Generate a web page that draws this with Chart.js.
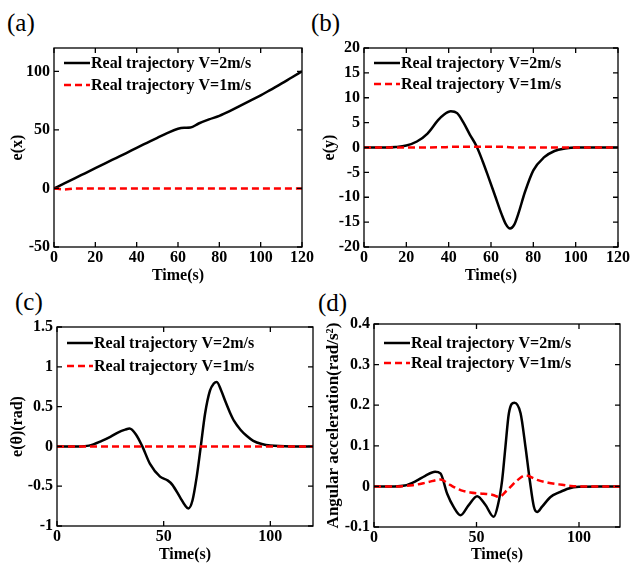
<!DOCTYPE html>
<html>
<head>
<meta charset="utf-8">
<script src="https://cdn.jsdelivr.net/npm/chart.js@4.4.0/dist/chart.umd.min.js"></script>
<style>
  body { margin: 0; background: #fff; width: 631px; height: 564px; position: relative; overflow: hidden; }
  canvas { position: absolute; }
  .tag { position: absolute; font-family: "Liberation Serif", "Times New Roman", serif; font-size: 25px; line-height: 1; color: #000; }
</style>
</head>
<body>
<div class="tag" style="left:7px;top:10px">(a)</div>
<div class="tag" style="left:311px;top:10px">(b)</div>
<div class="tag" style="left:15px;top:289px">(c)</div>
<div class="tag" style="left:318px;top:290px">(d)</div>
<canvas id="chartA" width="315" height="285" style="left:0;top:0"></canvas>
<canvas id="chartB" width="316" height="285" style="left:315px;top:0"></canvas>
<canvas id="chartC" width="315" height="282" style="left:0;top:282px"></canvas>
<canvas id="chartD" width="316" height="282" style="left:315px;top:282px"></canvas>
<script>
const labelV2 = "Real trajectory V=2m/s";
const labelV1 = "Real trajectory V=1m/s";

// (a) e(x)
const aTime = [0, 5, 10, 15, 20, 25, 30, 35, 40, 45, 50, 55, 60, 63, 66, 70, 75, 80, 85, 90, 95, 100, 105, 110, 115, 120];
const aV2 = [0, 4.3, 8.7, 13, 17.3, 21.7, 26, 30.3, 34.7, 39, 43.3, 47.5, 51, 51.8, 52, 55.5, 59, 62, 66, 70.5, 75, 79.5, 84.5, 89.5, 94.8, 100];
const aV1 = [0, -0.8, 0, 0, 0, 0, 0, 0, 0, 0, 0, 0, 0, 0, 0, 0, 0, 0, 0, 0, 0, 0, 0, 0, 0, 0];
const aXTicks = [0, 20, 40, 60, 80, 100, 120];
const aYTicks = [-50, 0, 50, 100];

// (b) e(y)
const bTime = [0, 5, 10, 15, 20, 25, 30, 35, 38, 41, 44, 47, 50, 53, 56, 59, 62, 65, 67, 69, 71, 73, 76, 80, 85, 90, 95, 100, 110, 120];
const bV2 = [0, 0, 0, 0.1, 0.4, 1.2, 2.8, 5.5, 6.7, 7.3, 6.9, 5.0, 2.6, 0.4, -2.7, -6.2, -9.8, -13.4, -15.4, -16.3, -15.5, -13.2, -9, -4.6, -2, -0.7, -0.2, 0, 0, 0];
const bTime1 = [0, 20, 38, 42, 66, 69, 72, 120];
const bV1 = [0, 0, 0.05, 0.15, 0.15, 0.05, 0, 0];
const bXTicks = [0, 20, 40, 60, 80, 100, 120];
const bYTicks = [-20, -15, -10, -5, 0, 5, 10, 15, 20];

// (c) e(theta)
const cTime = [0, 5, 10, 15, 21, 25, 29, 32, 34, 37, 40, 43.6, 48.3, 52, 54, 57.7, 60, 61.6, 63.5, 65.5, 67.4, 69.4, 71.7, 73.5, 74.9, 77, 79, 81, 83, 86, 89, 92, 96, 100, 110, 120];
const cV2 = [0, 0, 0, 0.01, 0.07, 0.12, 0.18, 0.21, 0.225, 0.15, 0, -0.22, -0.38, -0.43, -0.48, -0.64, -0.74, -0.78, -0.68, -0.38, 0, 0.41, 0.7, 0.79, 0.81, 0.7, 0.56, 0.43, 0.32, 0.21, 0.13, 0.07, 0.03, 0.01, 0, 0];
const cTime1 = [0, 120];
const cV1 = [0, 0];
const cXTicks = [0, 50, 100];
const cYTicks = [-1, -0.5, 0, 0.5, 1, 1.5];

// (d) angular acceleration
const dTime = [0, 5, 10, 15, 20, 25, 29.8, 32.4, 35.7, 38.9, 42.2, 46.2, 50.3, 54.4, 58.4, 60.4, 62.5, 64.1, 65.8, 68.5, 71.5, 73.9, 76, 78, 79.6, 82, 86.1, 90.2, 95, 100, 110, 120];
const dV2 = [0, 0, 0, 0.002, 0.012, 0.026, 0.036, 0.032, -0.018, -0.051, -0.071, -0.046, -0.024, -0.046, -0.075, -0.047, 0.015, 0.097, 0.18, 0.206, 0.18, 0.097, 0.015, -0.05, -0.063, -0.05, -0.026, -0.015, -0.005, -0.001, 0, 0];
const dTime1 = [0, 10, 19, 26, 32.4, 37.3, 42.2, 47, 53.5, 58, 60.9, 65, 69.9, 73.9, 79.6, 85, 90.2, 96, 100, 120];
const dV1 = [0, 0, 0.003, 0.01, 0.017, 0.003, -0.009, -0.015, -0.018, -0.021, -0.026, -0.009, 0.015, 0.027, 0.016, 0.009, 0.005, 0.001, 0, 0];
const dXTicks = [0, 50, 100];
const dYTicks = [-0.1, 0, 0.1, 0.2, 0.3, 0.4];

const serif = "'Liberation Serif', 'Times New Roman', serif";

const frameAndLegend = {
  id: "frameAndLegend",
  afterDatasetsDraw(chart, args, opts) {
    const { ctx, chartArea: a, scales } = chart;
    ctx.save();
    ctx.strokeStyle = "#000";
    ctx.lineWidth = 1.3;
    ctx.strokeRect(a.left, a.top, a.right - a.left, a.bottom - a.top);

    // inward ticks on all four sides
    const len = 5;
    ctx.beginPath();
    scales.x.ticks.forEach((t) => {
      const px = scales.x.getPixelForValue(t.value);
      ctx.moveTo(px, a.bottom);
      ctx.lineTo(px, a.bottom - len);
      ctx.moveTo(px, a.top);
      ctx.lineTo(px, a.top + len);
    });
    scales.y.ticks.forEach((t) => {
      const py = scales.y.getPixelForValue(t.value);
      ctx.moveTo(a.left, py);
      ctx.lineTo(a.left + len, py);
      ctx.moveTo(a.right, py);
      ctx.lineTo(a.right - len, py);
    });
    ctx.stroke();

    // legend inside the plot, top left
    ctx.font = "bold 16px " + serif;
    ctx.textBaseline = "middle";
    ctx.fillStyle = "#000";
    const legendOrder = [1, 0];
    legendOrder.forEach((idx, row) => {
      const ds = chart.data.datasets[idx];
      const y = a.top + opts.rows[row];
      ctx.beginPath();
      ctx.strokeStyle = ds.borderColor;
      ctx.lineWidth = ds.borderWidth;
      ctx.setLineDash(ds.borderDash || []);
      ctx.moveTo(a.left + 10, y);
      ctx.lineTo(a.left + 36, y);
      ctx.stroke();
      ctx.setLineDash([]);
      ctx.fillText(ds.label, a.left + 37, y + 1);
    });
    ctx.restore();
  },
};

function makeChart(id, cfg) {
  const v2 = cfg.time.map((t, i) => ({ x: t, y: cfg.v2[i] }));
  const v1 = cfg.time1.map((t, i) => ({ x: t, y: cfg.v1[i] }));
  return new Chart(document.getElementById(id), {
    type: "line",
    data: {
      datasets: [
        {
          label: labelV1,
          data: v1,
          borderColor: "#ff0000",
          borderWidth: 2.5,
          borderDash: [7, 4],
          pointRadius: 0,
          cubicInterpolationMode: "monotone",
        },
        {
          label: labelV2,
          data: v2,
          borderColor: "#000000",
          borderWidth: 2.5,
          pointRadius: 0,
          cubicInterpolationMode: "monotone",
        },
      ],
    },
    options: {
      responsive: false,
      animation: false,
      devicePixelRatio: 1,
      layout: {
        padding: { top: cfg.padTop, right: cfg.padRight, left: 0, bottom: 0 },
      },
      scales: {
        x: {
          type: "linear",
          min: 0,
          max: 120,
          border: { display: false },
          grid: { display: false, drawTicks: false },
          afterBuildTicks: (s) => { s.ticks = cfg.xTicks.map((v) => ({ value: v })); },
          afterFit: (s) => { s.height = cfg.xHeight; },
          ticks: {
            color: "#000",
            padding: 1,
            maxRotation: 0,
            font: { family: serif, size: 16, weight: "bold" },
            callback: (v) => String(v),
          },
          title: {
            display: true,
            text: "Time(s)",
            color: "#000",
            padding: { top: 0, bottom: 0 },
            font: { family: serif, size: 16, weight: "bold" },
          },
        },
        y: {
          type: "linear",
          min: cfg.yMin,
          max: cfg.yMax,
          border: { display: false },
          grid: { display: false, drawTicks: false },
          afterBuildTicks: (s) => { s.ticks = cfg.yTicks.map((v) => ({ value: v })); },
          afterFit: (s) => { s.width = cfg.yWidth; },
          ticks: {
            color: "#000",
            padding: 4,
            font: { family: serif, size: 16, weight: "bold" },
            callback: (v) => String(v),
          },
          title: {
            display: true,
            text: cfg.yTitle,
            color: "#000",
            padding: { top: cfg.titlePad, bottom: 0 },
            font: { family: serif, size: cfg.titleSize, weight: "bold" },
          },
        },
      },
      plugins: {
        legend: { display: false },
        tooltip: { enabled: false },
        frameAndLegend: { rows: cfg.rows },
      },
    },
    plugins: [frameAndLegend],
  });
}

makeChart("chartA", {
  time: aTime, v2: aV2, time1: aTime, v1: aV1,
  xTicks: aXTicks, yTicks: aYTicks, yMin: -50, yMax: 120,
  yTitle: "e(x)", padTop: 48, padRight: 9, yWidth: 54, xHeight: 38, titlePad: 8, titleSize: 16,
  rows: [15, 37],
});

makeChart("chartB", {
  time: bTime, v2: bV2, time1: bTime1, v1: bV1,
  xTicks: bXTicks, yTicks: bYTicks, yMin: -20, yMax: 20,
  yTitle: "e(y)", padTop: 48, padRight: 13, yWidth: 49, xHeight: 38, titlePad: 5, titleSize: 16,
  rows: [15, 36],
});

makeChart("chartC", {
  time: cTime, v2: cV2, time1: cTime1, v1: cV1,
  xTicks: cXTicks, yTicks: cYTicks, yMin: -1, yMax: 1.5,
  yTitle: "e(θ)(rad)", padTop: 45, padRight: 2, yWidth: 57, xHeight: 38, titlePad: 8, titleSize: 16,
  rows: [16, 39],
});

makeChart("chartD", {
  time: dTime, v2: dV2, time1: dTime1, v1: dV1,
  xTicks: dXTicks, yTicks: dYTicks, yMin: -0.1, yMax: 0.4,
  yTitle: "Angular acceleration(rad/s²)", padTop: 42, padRight: 11, yWidth: 59, xHeight: 37, titlePad: 8, titleSize: 17,
  rows: [19, 39],
});
</script>
</body>
</html>
